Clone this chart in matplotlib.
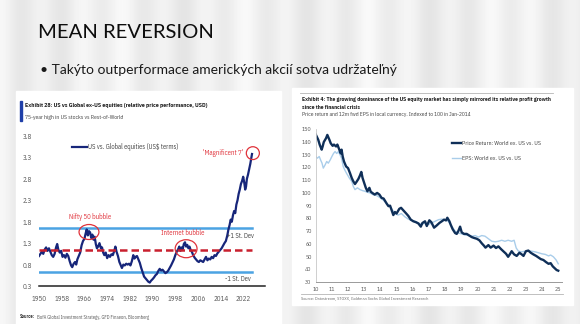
import matplotlib.pyplot as plt
import numpy as np
from matplotlib.patches import Ellipse, Rectangle

W, H = 580, 324

# --- Exhibit 28: US vs global ex-US relative price performance ---
us_year = [1950.0, 1950.5, 1951.0, 1951.5, 1952.0, 1952.5, 1953.0, 1953.5, 1954.0, 1954.5,
           1955.0, 1955.5, 1956.0, 1956.4, 1956.8, 1957.3, 1957.8, 1958.3, 1958.8, 1959.3,
           1959.8, 1960.3, 1960.8, 1961.3, 1961.7, 1962.2, 1962.7, 1963.1, 1963.5, 1964.0,
           1964.5, 1965.0, 1965.5, 1966.0, 1966.4, 1966.8, 1967.2, 1967.6, 1968.0, 1968.4,
           1968.8, 1969.2, 1969.6, 1970.0, 1970.4, 1970.8, 1971.3, 1971.8, 1972.2, 1972.6,
           1973.0, 1973.5, 1974.0, 1974.5, 1975.0, 1975.5, 1976.0, 1976.5, 1976.9, 1977.3,
           1977.8, 1978.3, 1978.8, 1979.2, 1979.7, 1980.2, 1980.7, 1981.2, 1981.7, 1982.2,
           1982.7, 1983.2, 1983.6, 1984.0, 1984.5, 1985.0, 1985.5, 1986.0, 1986.5, 1987.0,
           1987.5, 1988.0, 1988.5, 1989.0, 1989.4, 1990.0, 1990.5, 1991.0, 1991.5, 1992.0,
           1992.5, 1993.0, 1993.5, 1994.0, 1994.5, 1995.0, 1995.5, 1996.0, 1996.5, 1997.0,
           1997.5, 1998.0, 1998.5, 1999.0, 1999.4, 1999.8, 2000.2, 2000.6, 2001.0, 2001.4,
           2001.8, 2002.2, 2002.6, 2003.0, 2003.4, 2003.8, 2004.3, 2004.8, 2005.3, 2005.8,
           2006.3, 2006.8, 2007.3, 2007.8, 2008.3, 2008.8, 2009.3, 2009.8, 2010.3, 2010.8,
           2011.3, 2011.8, 2012.3, 2012.8, 2013.3, 2013.8, 2014.3, 2014.8, 2015.3, 2015.8,
           2016.3, 2016.7, 2017.1, 2017.5, 2017.9, 2018.3, 2018.7, 2019.1, 2019.5, 2019.9,
           2020.3, 2020.7, 2021.1, 2021.5, 2021.9, 2022.3, 2022.6, 2022.9, 2023.2, 2023.6,
           2024.0, 2024.4, 2024.8, 2025.0]
us_rel = [1.00, 1.05, 1.10, 1.05, 1.15, 1.20, 1.12, 1.18, 1.10, 1.02,
          0.98, 1.05, 1.20, 1.28, 1.15, 1.08, 1.12, 0.98, 1.02, 0.96,
          1.05, 1.00, 0.88, 0.78, 0.74, 0.82, 0.86, 0.80, 0.92, 1.00,
          1.08, 1.25, 1.35, 1.40, 1.52, 1.62, 1.48, 1.58, 1.55, 1.42,
          1.50, 1.38, 1.45, 1.28, 1.18, 1.22, 1.30, 1.18, 1.20, 1.08,
          1.02, 1.08, 0.95, 1.02, 0.98, 1.04, 1.02, 1.12, 1.22, 1.10,
          1.00, 0.86, 0.78, 0.72, 0.80, 0.78, 0.82, 0.80, 0.82, 0.78,
          0.88, 1.02, 0.94, 0.98, 1.00, 0.92, 0.84, 0.72, 0.62, 0.52,
          0.48, 0.44, 0.40, 0.38, 0.42, 0.46, 0.50, 0.55, 0.58, 0.65,
          0.70, 0.66, 0.68, 0.64, 0.60, 0.62, 0.66, 0.72, 0.78, 0.85,
          0.92, 1.02, 1.10, 1.16, 1.22, 1.12, 1.20, 1.16, 1.28, 1.32,
          1.22, 1.26, 1.18, 1.22, 1.14, 1.10, 1.02, 0.96, 0.92, 0.88,
          0.86, 0.90, 0.88, 0.86, 0.92, 0.98, 0.90, 0.94, 0.92, 0.98,
          0.95, 1.02, 1.00, 1.06, 1.10, 1.14, 1.18, 1.24, 1.30, 1.35,
          1.48, 1.62, 1.72, 1.85, 1.80, 1.95, 2.05, 2.00, 2.20, 2.30,
          2.45, 2.55, 2.68, 2.75, 2.85, 2.70, 2.55, 2.62, 2.80, 2.90,
          3.02, 3.15, 3.30, 3.38]
rel_mean = 1.14
rel_plus_sd = 1.66
rel_minus_sd = 0.62
left_xticks = list(range(1950, 2023, 8))
left_yticks = [0.3, 0.8, 1.3, 1.8, 2.3, 2.8, 3.3, 3.8]

# --- Exhibit 4: world ex-US vs US, price return and 12m fwd EPS ---
price_t = [2010.0, 2010.16, 2010.25, 2010.37, 2010.43, 2010.5, 2010.64, 2010.72, 2010.85, 2010.93,
           2011.05, 2011.13, 2011.26, 2011.34, 2011.46, 2011.55, 2011.6, 2011.67, 2011.75, 2011.88,
           2012.0, 2012.12, 2012.23, 2012.33, 2012.43, 2012.54, 2012.64, 2012.74, 2012.82, 2012.9,
           2013.0, 2013.1, 2013.2, 2013.32, 2013.4, 2013.5, 2013.65, 2013.8, 2013.94, 2014.08,
           2014.2, 2014.3, 2014.4, 2014.5, 2014.6, 2014.7, 2014.8, 2014.9, 2015.0, 2015.17,
           2015.28, 2015.42, 2015.6, 2015.73, 2015.88, 2016.04, 2016.2, 2016.35, 2016.5, 2016.6,
           2016.76, 2016.87, 2017.03, 2017.15, 2017.32, 2017.48, 2017.65, 2017.8, 2017.94, 2018.06,
           2018.14, 2018.27, 2018.35, 2018.47, 2018.62, 2018.72, 2018.82, 2018.93, 2019.03, 2019.17,
           2019.34, 2019.5, 2019.65, 2019.8, 2019.96, 2020.12, 2020.27, 2020.4, 2020.5, 2020.68,
           2020.82, 2021.0, 2021.15, 2021.3, 2021.45, 2021.6, 2021.77, 2021.9, 2022.0, 2022.12,
           2022.27, 2022.43, 2022.6, 2022.74, 2022.85, 2023.0, 2023.15, 2023.3, 2023.46, 2023.63,
           2023.77, 2023.92, 2024.08, 2024.25, 2024.4, 2024.53, 2024.66, 2024.8, 2024.9, 2025.0]
price_v = [146, 141.7, 137.8, 134, 136.5, 140, 143, 145.6, 141.7, 139,
           137, 138, 136.5, 138, 134, 131, 134, 128.6, 124.7, 120.8,
           119.5, 115.6, 111.7, 109, 107, 109, 111, 113.8, 116.5, 111.7,
           107.8, 104, 101.3, 104, 101, 100, 98.7, 100, 98.7, 96,
           95.6, 93.5, 91.4, 89.6, 90, 86.3, 82.6, 85, 83.8, 87.5,
           88.3, 86.3, 83.8, 81.9, 79, 77.7, 77, 76, 73.5, 76.4,
           77.7, 74, 78.5, 77, 72.7, 74.4, 76.4, 77.7, 79, 78.4,
           80.5, 77.7, 75, 71.5, 68.5, 67.8, 70, 73.5, 69, 67.8,
           67.8, 66.5, 65.3, 64.6, 64, 62.8, 60.4, 58.6, 57, 59,
           57, 58.6, 56.7, 58, 56, 54.2, 52.2, 49.8, 51.7, 54.2,
           51.7, 50.5, 53, 51.7, 50.5, 54.2, 54.7, 53, 51.7, 50.5,
           49.3, 48, 47.3, 45.6, 44.3, 44.8, 42.3, 40.6, 39.4, 38.9]
eps_t = [2010.0, 2010.1, 2010.22, 2010.3, 2010.39, 2010.47, 2010.58, 2010.68, 2010.78, 2010.9,
         2011.0, 2011.1, 2011.2, 2011.3, 2011.4, 2011.5, 2011.6, 2011.7, 2011.8, 2011.9,
         2012.08, 2012.23, 2012.33, 2012.43, 2012.58, 2012.74, 2012.9, 2013.05, 2013.2, 2013.36,
         2013.53, 2013.73, 2013.94, 2014.14, 2014.35, 2014.56, 2014.7, 2014.9, 2015.1, 2015.3,
         2015.5, 2015.73, 2015.94, 2016.14, 2016.35, 2016.56, 2016.76, 2016.97, 2017.18, 2017.38,
         2017.6, 2017.8, 2018.0, 2018.2, 2018.4, 2018.62, 2018.82, 2019.03, 2019.24, 2019.44,
         2019.65, 2019.86, 2020.06, 2020.27, 2020.47, 2020.68, 2020.89, 2021.1, 2021.3, 2021.5,
         2021.7, 2021.9, 2022.12, 2022.27, 2022.4, 2022.54, 2022.74, 2022.95, 2023.15, 2023.36,
         2023.57, 2023.77, 2023.98, 2024.2, 2024.4, 2024.53, 2024.7, 2024.87, 2025.0]
eps_v = [128.6, 127.3, 128.6, 126, 123.4, 119.5, 122, 124.7, 123.4, 126,
         128.6, 131, 132.5, 131, 132.5, 130, 127.3, 120.8, 118, 115.6,
         111.7, 109, 105, 102.6, 104, 102.6, 101.8, 101.3, 100.5, 100,
         98.7, 98.2, 96.6, 94.8, 92.2, 89.6, 87.5, 83.8, 82.6, 83.8,
         81.4, 79.4, 78.4, 77.7, 76.4, 75.2, 76.4, 75.2, 76.4, 77.7,
         79, 79.4, 79, 77.7, 74, 70, 68.5, 67.8, 67, 66.5,
         66, 66.5, 65.3, 66.5, 66, 64, 62, 61.6, 62, 62.8,
         62, 62.8, 62, 62.8, 56.7, 54.2, 53.7, 54.2, 54.7, 54.2,
         53.7, 53, 52.2, 51.7, 50.5, 51.2, 49.8, 47.3, 44.3]
right_xticks = list(range(2010, 2026))
right_yticks = list(range(30, 151, 10))

NARROW = ['IBM Plex Sans Condensed', 'DejaVu Sans']
SLIDE = ['Lato', 'DejaVu Sans']


def box(x0, y0, x1, y1):
    # pixel box (top-left origin) -> figure fraction rect
    return [x0 / W, 1 - y1 / H, (x1 - x0) / W, (y1 - y0) / H]


fig = plt.figure(figsize=(W / 100, H / 100), dpi=100)
renderer = fig.canvas.get_renderer()

# slide background: pale grey with soft vertical banding, in pixel coordinates
bg = fig.add_axes([0, 0, 1, 1])
cols = np.arange(W)
band = 0.935 + 0.025 * np.cos(cols / 6.5) + 0.015 * np.cos(cols / 21.0 + 1.0)
bg.imshow(np.tile(band, (H, 1)), cmap='gray', vmin=0, vmax=1, aspect='auto',
          extent=[0, W, H, 0], interpolation='bilinear')
bg.set_xlim(0, W)
bg.set_ylim(H, 0)
bg.axis('off')

bg.add_patch(Rectangle((16, 91), 265, 240, color='white', zorder=1))
bg.add_patch(Rectangle((292, 88), 281, 217, color='white', zorder=1))

bg.text(38, 33, 'MEAN REVERSION', fontsize=14.6, family=SLIDE, va='center', color='#0d0d0d')
bg.text(40, 70, '\u2022 Takýto outperformace amerických akcií sotva udržateľný', fontsize=10,
        family=SLIDE, va='center', color='#1a1a1a')


def label_pair(x, y, head, rest, size, color_rest):
    # bold lead-in followed by plain text on the same baseline
    t = bg.text(x, y, head, fontsize=size, family=NARROW, weight='bold', va='center',
                color='#333333', zorder=3)
    ext = t.get_window_extent(renderer)
    bg.text(x + ext.width + 1.5, y, rest, fontsize=size, family=NARROW, va='center',
            color=color_rest, zorder=3)


# left exhibit header
bg.add_patch(Rectangle((20, 101), 2.2, 20, color='#1f3fa8', zorder=2))
bg.text(25, 106, 'Exhibit 28: US vs Global ex-US equities (relative price performance, USD)',
        fontsize=4.2, family=NARROW, weight='bold', va='center', color='#222222', zorder=3)
bg.text(25, 117, '75-year high in US stocks vs Rest-of-World', fontsize=4.1, family=NARROW,
        va='center', color='#444444', zorder=3)
label_pair(20, 317, 'Source:', 'BofA Global Investment Strategy, GFD Finaeon, Bloomberg',
           3.3, '#555555')

# right exhibit header
bg.plot([300, 553], [93, 93], color='#b5b5b5', lw=0.6, zorder=2)
bg.text(302, 100, 'Exhibit 4: The growing dominance of the US equity market has simply mirrored '
        'its relative profit growth', fontsize=4.1, family=NARROW, weight='bold', va='center',
        color='#222222', zorder=3)
bg.text(302, 107.5, 'since the financial crisis', fontsize=4.1, family=NARROW, weight='bold',
        va='center', color='#222222', zorder=3)
bg.text(302, 114.5, 'Price return and 12m fwd EPS in local currency. Indexed to 100 in Jan-2014',
        fontsize=3.95, family=NARROW, va='center', color='#444444', zorder=3)
bg.plot([301, 563], [294, 294], color='#b5b5b5', lw=0.6, zorder=2)
bg.text(301, 298, 'Source: Datastream, STOXX, Goldman Sachs Global Investment Research',
        fontsize=3.1, family=NARROW, va='center', color='#666666', zorder=3)

# ---- left chart ----
ax1 = fig.add_axes(box(39, 136, 265, 286))
ax1.patch.set_alpha(0)
ax1.set_xlim(1950, 1950 + 226 / 2.84)
ax1.set_ylim(0.3, 3.8)
for s in ['left', 'top', 'right']:
    ax1.spines[s].set_visible(False)
ax1.spines['bottom'].set_color('#222222')
ax1.spines['bottom'].set_linewidth(1.1)
ax1.set_xticks(left_xticks)
ax1.set_yticks(left_yticks)
ax1.set_yticklabels([f'{v:.1f}' for v in left_yticks])
ax1.tick_params(length=0, labelsize=5.0, labelcolor='#555555')
ax1.tick_params(axis='x', pad=6.5)
ax1.tick_params(axis='y', pad=5)
for lab in ax1.get_xticklabels() + ax1.get_yticklabels():
    lab.set_family(NARROW)

span = [us_year[0], us_year[-1]]
ax1.plot(span, [rel_plus_sd] * 2, color='#4ba3e3', lw=1.8, zorder=1)
ax1.plot(span, [rel_minus_sd] * 2, color='#4ba3e3', lw=1.8, zorder=1)
ax1.plot(us_year, us_rel, color='#17267a', lw=1.6, zorder=2,
         label='US vs. Global equities (US$ terms)')
ax1.plot(span, [rel_mean] * 2, color='#c9202e', lw=1.8, dashes=(3, 1.6), zorder=3)

red = '#e0323a'
ax1.add_patch(Ellipse((1967.6, 1.56), 7.0, 0.35, fill=False, ec=red, lw=0.9, zorder=4))
ax1.add_patch(Ellipse((2001.8, 1.17), 7.7, 0.42, fill=False, ec=red, lw=0.9, zorder=4))
ax1.add_patch(Ellipse((2025.3, 3.40), 4.6, 0.30, fill=False, ec=red, lw=0.9, zorder=4))
ax1.text(1968.0, 1.91, 'Nifty 50 bubble', color=red, fontsize=4.9, family=NARROW,
         ha='center', va='center')
ax1.text(2000.7, 1.54, 'Internet bubble', color=red, fontsize=4.9, family=NARROW,
         ha='center', va='center')
ax1.text(2021.8, 3.40, "'Magnificent 7'", color=red, fontsize=4.9, family=NARROW,
         ha='right', va='center')
ax1.text(2020.9, 1.47, '+1 St. Dev', color='#444444', fontsize=4.7, family=NARROW,
         ha='center', va='center')
ax1.text(2020.2, 0.46, '-1 St. Dev', color='#444444', fontsize=4.7, family=NARROW,
         ha='center', va='center')

leg1 = ax1.legend(loc='center left', bbox_to_anchor=(0.146, 0.927), frameon=False,
                  borderpad=0, borderaxespad=0, handlelength=2.3, handletextpad=0.15,
                  prop={'family': NARROW, 'size': 4.7})
for t in leg1.get_texts():
    t.set_color('#444444')

# ---- right chart ----
ax2 = fig.add_axes(box(315.7, 129.3, 562, 282))
ax2.patch.set_alpha(0)
ax2.set_xlim(2010, 2010 + (562 - 315.7) / 16.17)
ax2.set_ylim(30, 150)
ax2.spines['top'].set_visible(False)
ax2.spines['right'].set_visible(False)
ax2.spines['left'].set_color('#c8c8c8')
ax2.spines['left'].set_linewidth(0.6)
ax2.spines['bottom'].set_color('#9a9a9a')
ax2.spines['bottom'].set_linewidth(0.7)
ax2.set_xticks(right_xticks)
ax2.set_xticklabels([str(y)[2:] for y in right_xticks])
ax2.set_yticks(right_yticks)
ax2.tick_params(length=0, labelsize=4.2, labelcolor='#555555')
ax2.tick_params(axis='x', pad=3.5)
ax2.tick_params(axis='y', pad=3)
for lab in ax2.get_xticklabels() + ax2.get_yticklabels():
    lab.set_family(NARROW)

ax2.plot(eps_t, eps_v, color='#a9cdea', lw=1.0, label='EPS: World ex. US vs. US', zorder=1)
ax2.plot(price_t, price_v, color='#0f2f58', lw=1.7, label='Price Return: World ex. US vs. US',
         zorder=2)
h, l = ax2.get_legend_handles_labels()
leg2 = ax2.legend(h[::-1], l[::-1], loc='center left', bbox_to_anchor=(0.552, 0.859),
                  frameon=False, borderpad=0, borderaxespad=0, handlelength=1.6,
                  handletextpad=0.1, labelspacing=1.6,
                  prop={'family': NARROW, 'size': 4.2})
for t in leg2.get_texts():
    t.set_color('#444444')

fig.savefig('out.png', dpi=100)
